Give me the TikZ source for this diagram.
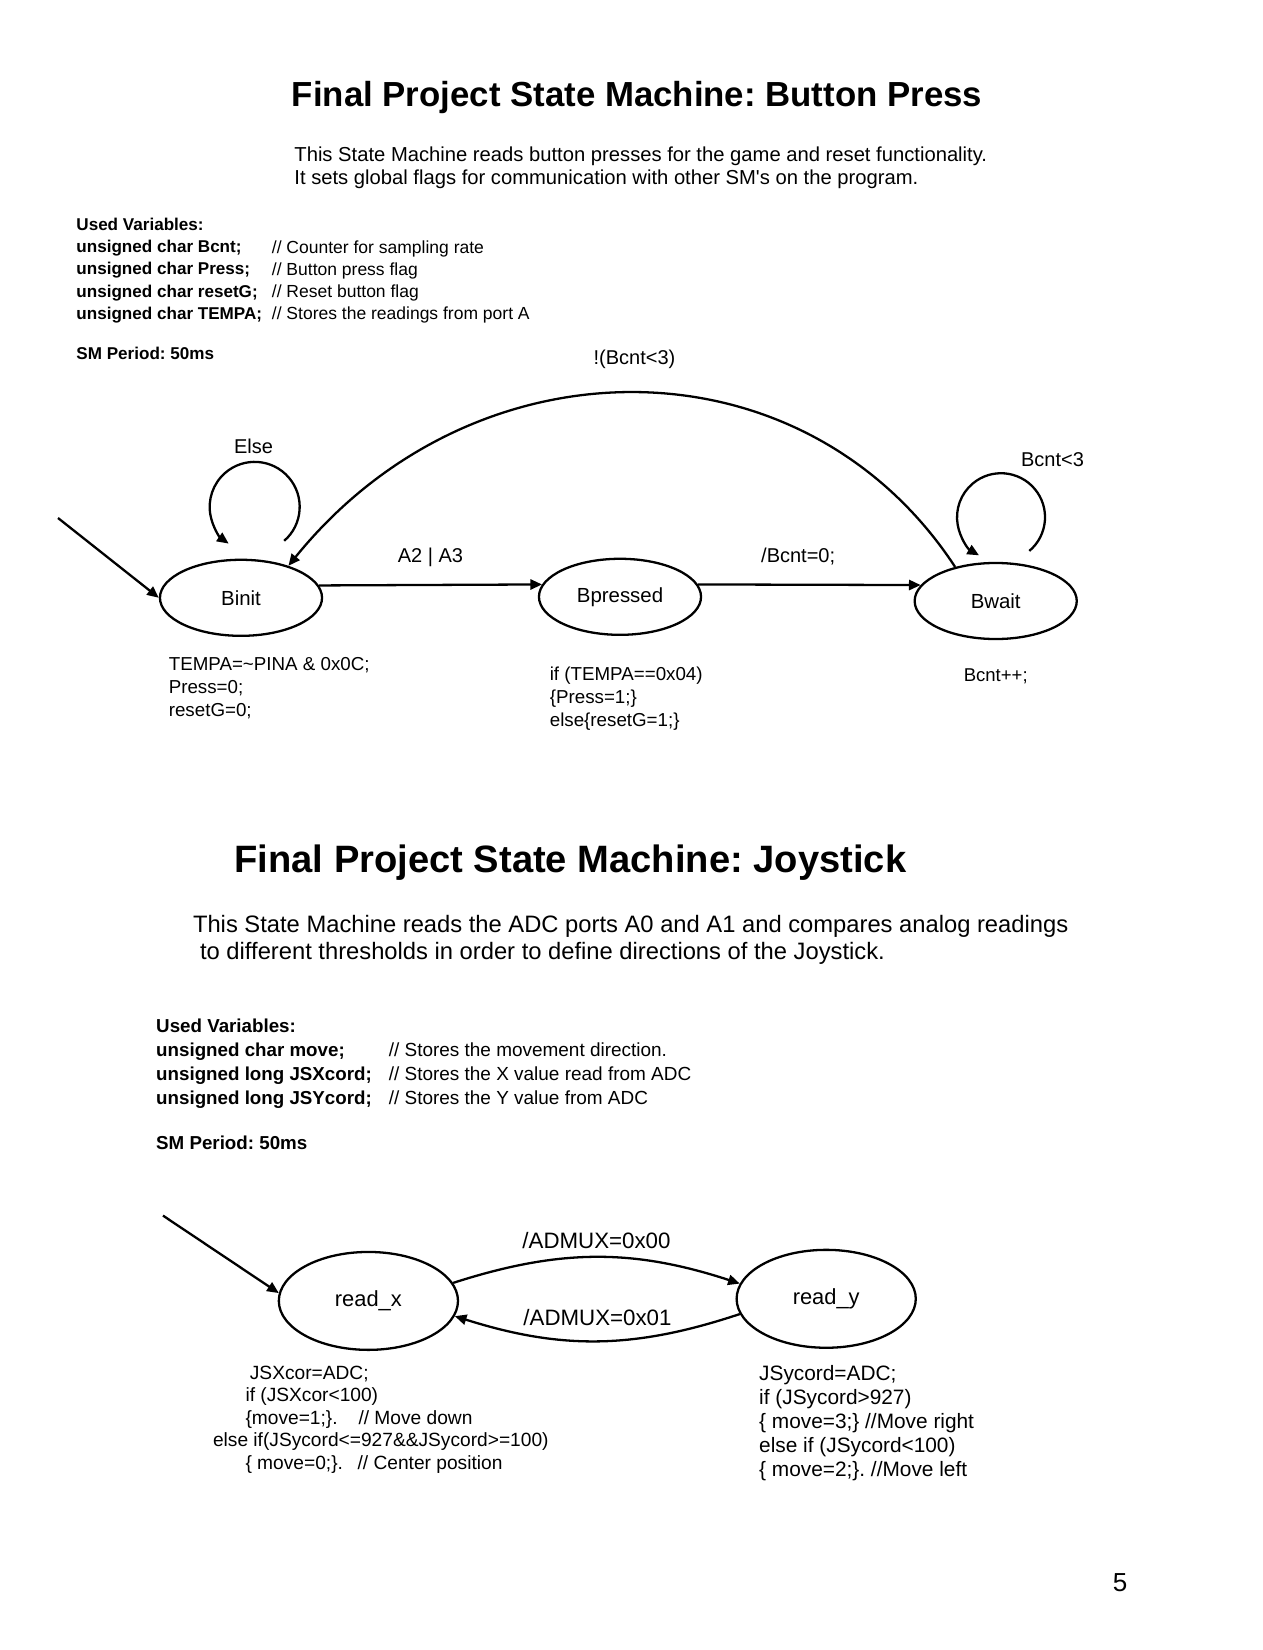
\documentclass[tikz,border=0pt]{standalone}
\usepackage{fontspec}
\setmainfont{Liberation Sans}
\usetikzlibrary{shapes.geometric,arrows.meta}
\newcommand{\fsz}[2]{\fontsize{#1}{#2}\selectfont}
\frenchspacing

\begin{document}
\begin{tikzpicture}[x=0.48pt,y=0.48pt,
    state/.style={ellipse,draw,line width=1.1pt,inner sep=0pt,minimum width=77.8pt,minimum height=36.5pt,font=\fsz{9.8}{12}},
    bigstate/.style={state,minimum width=86pt,minimum height=47pt,font=\fsz{10.5}{12}},
    trans/.style={line width=1.1pt,-{Triangle[length=5.6pt,width=4.9pt]}},
    lbl/.style={inner sep=0pt,text depth=0pt,font=\fsz{9.6}{11}},
    txt/.style={inner sep=0pt,align=left,anchor=north west}]
    \useasboundingbox (0,0) rectangle (1262,-1650);

    % button press machine
    \node[anchor=base,inner sep=0pt,font=\bfseries\fsz{16.7}{20}] (title1) at (637,-107) {Final Project State Machine: Button Press};
    \node[txt,font=\fsz{9.7}{11.1}] (desc1) at (294,-146.4) {This State Machine reads button presses for the game and reset functionality.\\It sets global flags for communication with other SM\textquotesingle s on the program.};
    \node[txt,font=\bfseries\fsz{8.2}{10.6}] (vars1) at (76,-218) {Used Variables:\\unsigned char Bcnt;\\unsigned char Press;\\unsigned char resetG;\\unsigned char TEMPA;};
    \node[txt,font=\fsz{8.4}{10.6}] (notes1) at (271.5,-240.1) {// Counter for sampling rate\\// Button press flag\\// Reset button flag\\// Stores the readings from port A};
    \node[anchor=base west,inner sep=0pt,font=\bfseries\fsz{8.2}{10}] (period1) at (76,-359.8) {SM Period: 50ms};

    \node[state] (Binit) at (241,-597.8) {Binit};
    \node[state] (Bpressed) at (620,-596.8) {Bpressed};
    \node[state] (Bwait) at (995.7,-601) {Bwait};

    \coordinate (start1) at (58,-518);
    \draw[trans] (start1) -- (Binit.west);
    \draw[trans] (Binit.9) -- node[lbl,above=10.2pt] (lblA) {A2 | A3} (Bpressed.171);
    \draw[trans] (Bpressed.9) -- node[lbl,above=10.2pt,pos=0.45] (lblB) {/Bcnt=0;} (Bwait.168);
    \draw[trans] (Bwait.140) .. controls +(-152,232) and +(186,230) .. (Binit.34) node[lbl,above=13.2pt,pos=0.5] (lblC) {!(Bcnt<3)};
    \draw[trans] ([shift={(43.2,17.8)}]Binit.north) arc[start angle=-49,end angle=234.7,radius=45];
    \draw[trans] ([shift={(33.6,10.9)}]Bwait.north) arc[start angle=-50,end angle=240,radius=44];
    \node[lbl,anchor=base] (lblE) at (253.6,-453.5) {Else};
    \node[lbl,anchor=base] (lblF) at (1052.5,-467) {Bcnt<3};

    \node[txt,font=\fsz{9}{10.9}] (actInit) at (168.4,-657.4) {TEMPA=\textasciitilde PINA \& 0x0C;\\Press=0;\\resetG=0;};
    \node[txt,font=\fsz{9}{10.9}] (actPressed) at (549.4,-666.9) {if (TEMPA==0x04)\\\{Press=1;\}\\else\{resetG=1;\}};
    \node[lbl,anchor=base,font=\fsz{8.9}{10}] (actWait) at (995.7,-681.4) {Bcnt++;};

    % joystick machine
    \node[anchor=base,inner sep=0pt,font=\bfseries\fsz{18.3}{22}] (title2) at (570.4,-872.5) {Final Project State Machine: Joystick};
    \node[txt,font=\fsz{11.4}{13.1}] (desc2) at (192.6,-914.5) {This State Machine reads the ADC ports A0 and A1 and compares analog readings\\\hspace*{3.4pt}to different thresholds in order to define directions of the Joystick.};
    \node[txt,font=\bfseries\fsz{9}{11.5}] (vars2) at (155.8,-1018.3) {Used Variables:\\unsigned char move;\\unsigned long JSXcord;\\unsigned long JSYcord;};
    \node[txt,font=\fsz{9.1}{11.5}] (notes2) at (388.4,-1042.2) {// Stores the movement direction.\\// Stores the X value read from ADC\\// Stores the Y value from ADC};
    \node[anchor=base west,inner sep=0pt,font=\bfseries\fsz{9}{11}] (period2) at (155.8,-1149.8) {SM Period: 50ms};

    \node[bigstate] (readx) at (368.4,-1300.9) {read\_x};
    \node[bigstate] (ready) at (826.2,-1298.8) {read\_y};

    \coordinate (start2) at (163,-1215.6);
    \draw[trans] (start2) -- (readx.175);
    \draw[trans] (readx.12) to[bend left=18] node[lbl,above=3.7pt,font=\fsz{10.7}{12}] (lblG) {/ADMUX=0x00} (ready.170);
    \draw[trans] (ready.190) to[bend left=18] node[lbl,above=6.7pt,font=\fsz{10.7}{12}] (lblH) {/ADMUX=0x01} (readx.350);

    \node[txt,font=\fsz{9.2}{10.75}] (actX) at (212.6,-1365.6) {\hspace*{17.7pt}JSXcor=ADC;\\\hspace*{15.6pt}if (JSXcor<100)\\\hspace*{15.6pt}\{move=1;\}.\hspace{10pt}// Move down\\else if(JSycord<=927\&\&JSycord>=100)\\\hspace*{15.6pt}\{ move=0;\}.\hspace{7pt}// Center position};
    \node[txt,font=\fsz{10}{11.5}] (actY) at (758.8,-1365) {JSycord=ADC;\\if (JSycord>927)\\\{ move=3;\} //Move right\\else if (JSycord<100)\\\{ move=2;\}. //Move left};

    \node[anchor=base,inner sep=0pt,font=\fsz{12.5}{14}] (pagenum) at (1120,-1591) {5};
\end{tikzpicture}
\end{document}
